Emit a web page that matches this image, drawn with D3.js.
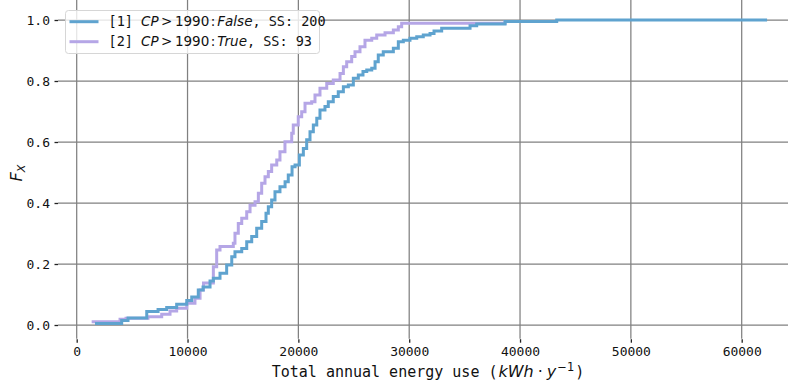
<!DOCTYPE html>
<html>
<head>
<meta charset="utf-8">
<script src="https://cdn.jsdelivr.net/npm/d3@7"></script>
<style>
  html, body { margin: 0; padding: 0; background: #ffffff; }
  svg { display: block; }
</style>
</head>
<body>
<svg id="chart" width="788" height="384"></svg>
<script>
// Empirical CDF of total annual energy use, split by construction period.
// Each pair of arrays holds the step knots: energy value and cumulative share.

// [1] CP > 1990 : False (200 samples)
const cpFalseEnergy = [1650, 4060, 4630, 6320, 7340, 8120, 9020, 9930, 10380, 10970,
  11400, 12030, 12330, 12930, 13530, 13990, 14280, 14890, 15340, 15790,
  16240, 16690, 17080, 17290, 17590, 17890, 18340, 18800, 19090, 19430,
  19700, 20090, 20450, 20750, 21050, 21350, 21660, 21950, 22400, 22700,
  23150, 23600, 24060, 24510, 24960, 25410, 25830, 26170, 26620, 26920,
  27210, 27660, 28570, 29020, 29470, 30070, 30680, 31270, 31880, 32240,
  32930, 35490, 36090, 38650, 43310, 62290];
const cpFalseCdf = [0.005, 0.015, 0.023, 0.044, 0.051, 0.057, 0.068, 0.080, 0.092, 0.115,
  0.125, 0.144, 0.153, 0.170, 0.197, 0.224, 0.240, 0.251, 0.273, 0.290,
  0.317, 0.339, 0.366, 0.388, 0.410, 0.437, 0.453, 0.470, 0.492, 0.519,
  0.525, 0.557, 0.579, 0.607, 0.634, 0.656, 0.678, 0.705, 0.716, 0.732,
  0.749, 0.765, 0.781, 0.787, 0.809, 0.820, 0.831, 0.836, 0.842, 0.863,
  0.885, 0.896, 0.907, 0.929, 0.934, 0.940, 0.945, 0.951, 0.956, 0.964,
  0.973, 0.981, 0.987, 0.995, 1.000, 1.000];

// [2] CP > 1990 : True (93 samples)
const cpTrueEnergy = [1350, 3910, 4450, 6430, 7670, 8420, 9020, 9930, 10670, 11130,
  11440, 12330, 12630, 12930, 14130, 14280, 14580, 14890, 15340, 15640,
  16090, 16390, 16690, 16990, 17290, 17590, 18050, 18340, 18790, 19400,
  19540, 19990, 20300, 20600, 21200, 21500, 21950, 22560, 23150, 23760,
  24060, 24360, 24810, 25110, 25560, 26010, 26620, 27070, 27820, 28570,
  29020, 29320, 38650];
const cpTrueCdf = [0.011, 0.019, 0.022, 0.027, 0.035, 0.046, 0.055, 0.071, 0.088, 0.115,
  0.138, 0.191, 0.246, 0.257, 0.268, 0.301, 0.333, 0.350, 0.371, 0.393,
  0.404, 0.432, 0.465, 0.486, 0.503, 0.525, 0.541, 0.568, 0.601, 0.629,
  0.656, 0.683, 0.699, 0.727, 0.732, 0.754, 0.776, 0.792, 0.803, 0.825,
  0.847, 0.863, 0.880, 0.896, 0.912, 0.934, 0.940, 0.951, 0.958, 0.967,
  0.978, 0.989, 1.000];

const seriesNames = ["[1]", "[2]"];
const seriesFlags = ["False", "True"];
const sampleSizes = [200, 93];

const xTicks = [0, 10000, 20000, 30000, 40000, 50000, 60000];
const yTicks = [0.0, 0.2, 0.4, 0.6, 0.8, 1.0];

const colors = ["#5fa3cf", "#b5a6e6"];
const mono = "'DejaVu Sans Mono', monospace";
const sans = "'DejaVu Sans', sans-serif";

const svg = d3.select("#chart");

// plot frame
const plot = { left: 58, right: 788, top: 0, bottom: 338.7 };

const x = d3.scaleLinear().domain([0, 60000]).range([76.7, 741.7]);
const y = d3.scaleLinear().domain([0, 1]).range([325, 20]);

// grid
const grid = svg.append("g").attr("stroke", "#808080").attr("stroke-width", 1.25);
grid.selectAll("line.v").data(xTicks).join("line")
  .attr("class", "v")
  .attr("x1", d => x(d)).attr("x2", d => x(d))
  .attr("y1", plot.top).attr("y2", plot.bottom);
grid.selectAll("line.h").data(yTicks).join("line")
  .attr("class", "h")
  .attr("x1", plot.left).attr("x2", plot.right)
  .attr("y1", d => y(d)).attr("y2", d => y(d));

// axes (ticks and labels only, no spines)
const xAxis = d3.axisBottom(x).tickValues(xTicks).tickFormat(d3.format("d"))
  .tickSizeInner(3.5).tickSizeOuter(0).tickPadding(4.5);
const gx = svg.append("g").attr("transform", `translate(0,${plot.bottom + 0.5})`).call(xAxis);
gx.select(".domain").remove();
gx.selectAll(".tick line").attr("stroke", "#222").attr("stroke-width", 1.3);
gx.selectAll(".tick text").attr("font-family", mono).attr("font-size", 13).attr("fill", "#111");

const yAxis = d3.axisLeft(y).tickValues(yTicks).tickFormat(d3.format(".1f"))
  .tickSizeInner(3.5).tickSizeOuter(0).tickPadding(4.5);
const gy = svg.append("g").attr("transform", `translate(${plot.left},0)`).call(yAxis);
gy.select(".domain").remove();
gy.selectAll(".tick line").attr("stroke", "#222").attr("stroke-width", 1.3);
gy.selectAll(".tick text").attr("font-family", mono).attr("font-size", 13).attr("fill", "#111");

// step lines
const line = d3.line().curve(d3.curveStepAfter).x(d => x(d[0])).y(d => y(d[1]));
const series = [
  d3.zip(cpFalseEnergy, cpFalseCdf),
  d3.zip(cpTrueEnergy, cpTrueCdf)
];
const lines = svg.append("g");
[1, 0].forEach(i => {
  lines.append("path")
    .datum(series[i])
    .attr("d", line)
    .attr("fill", "none")
    .attr("stroke", colors[i])
    .attr("stroke-width", 3)
    .attr("stroke-linejoin", "miter")
    .attr("stroke-linecap", "butt");
});

// x axis label
const xl = svg.append("text")
  .attr("x", 428).attr("y", 377)
  .attr("text-anchor", "middle")
  .attr("font-size", 15).attr("fill", "#111");
xl.append("tspan").attr("font-family", mono).text("Total annual energy use (");
xl.append("tspan").attr("font-family", sans).attr("font-size", 16).attr("font-style", "italic").attr("dx", 1).text("kWh");
xl.append("tspan").attr("font-family", sans).attr("font-size", 16).attr("dx", 4).text("\u00B7");
xl.append("tspan").attr("font-family", sans).attr("font-size", 16).attr("font-style", "italic").attr("dx", 4).text("y");
xl.append("tspan").attr("font-family", sans).attr("font-size", 11.5).attr("dx", 1).attr("dy", -6.5).text("\u22121");
xl.append("tspan").attr("font-family", mono).attr("dx", 1).attr("dy", 6.5).text(")");

// y axis label
const yl = svg.append("text")
  .attr("transform", "translate(22,173) rotate(-90)")
  .attr("text-anchor", "middle")
  .attr("font-family", sans).attr("font-size", 16).attr("font-style", "italic").attr("fill", "#111");
yl.append("tspan").text("F");
yl.append("tspan").attr("font-size", 11).attr("dy", 3).text("X");

// legend
const legend = svg.append("g");
legend.append("rect")
  .attr("x", 65.5).attr("y", 10.5).attr("width", 254).attr("height", 43)
  .attr("rx", 3).attr("ry", 3)
  .attr("fill", "#ffffff").attr("fill-opacity", 0.8)
  .attr("stroke", "#d6d6d6").attr("stroke-width", 1);
seriesNames.forEach((name, i) => {
  const yy = 21.7 + i * 20;
  legend.append("line")
    .attr("x1", 69.5).attr("x2", 98.5).attr("y1", yy).attr("y2", yy)
    .attr("stroke", colors[i]).attr("stroke-width", 3);
  const t = legend.append("text")
    .attr("x", 108.5).attr("y", yy + 4.7)
    .attr("font-size", 13.5).attr("fill", "#111");
  t.append("tspan").attr("font-family", mono).text(name + " ");
  t.append("tspan").attr("font-family", sans).attr("font-style", "italic").text("CP");
  t.append("tspan").attr("font-family", sans).attr("dx", 2.5).text(">");
  t.append("tspan").attr("font-family", sans).attr("dx", 2.5).text("1990");
  t.append("tspan").attr("font-family", sans).attr("dx", 1.5).text(":");
  t.append("tspan").attr("font-family", sans).attr("font-style", "italic").attr("dx", 2).text(seriesFlags[i]);
  t.append("tspan").attr("font-family", mono).text(", SS: " + sampleSizes[i]);
});
</script>
</body>
</html>
